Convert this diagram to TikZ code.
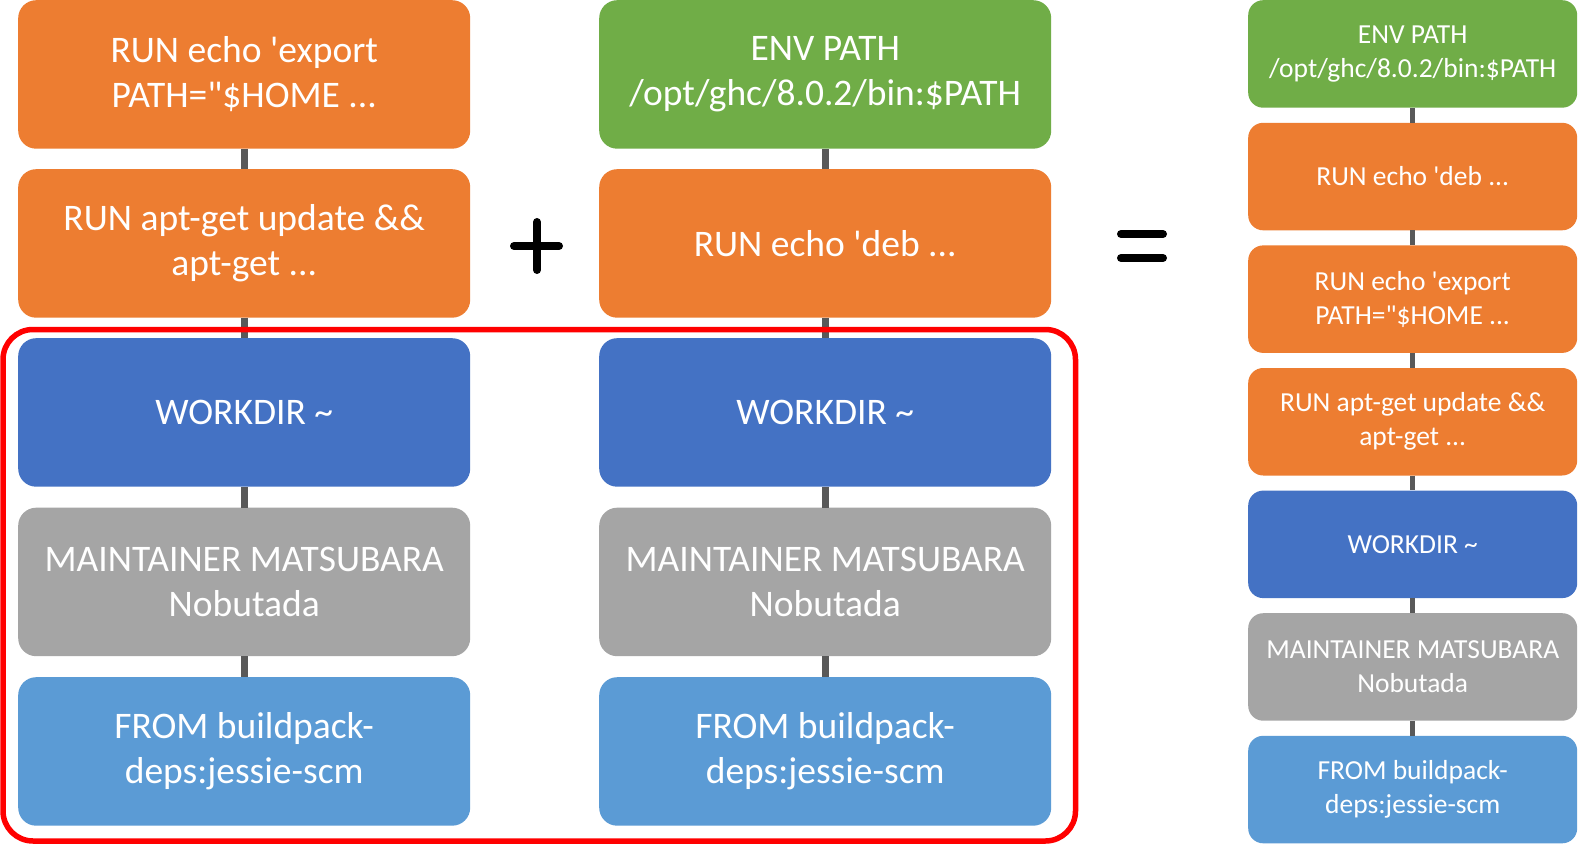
\documentclass[tikz,border=0pt]{standalone}
\usepackage{fontspec}
\setmainfont{Carlito}[Ligatures=TeXOff]
\definecolor{cOrange}{HTML}{ED7D31}
\definecolor{cGreen}{HTML}{70AD47}
\definecolor{cBlue}{HTML}{4472C4}
\definecolor{cGray}{HTML}{A5A5A5}
\definecolor{cLight}{HTML}{5B9BD5}
\definecolor{cConn}{HTML}{595959}
\definecolor{cRed}{HTML}{FF0000}
\begin{document}
\begin{tikzpicture}[x=1pt,y=-1pt,
  bigbox/.style={rounded corners=18pt, minimum width=452pt, minimum height=148.5pt,
    anchor=north west, align=center, text=white, inner sep=0pt,
    font=\fontsize{37.5}{45}\selectfont},
  smallbox/.style={rounded corners=15pt, minimum width=329pt, minimum height=107.5pt,
    anchor=north west, align=center, text=white, inner sep=0pt,
    font=\fontsize{27.5}{34}\selectfont},
  conn/.style={draw=cConn, line width=7pt},
  sconn/.style={draw=cConn, line width=5.5pt},
  sym/.style={draw=black, line width=8pt, line cap=round},
  frame/.style={draw=cRed, line width=5.5pt, rounded corners=30pt}]
\useasboundingbox (0,0) rectangle (1580,845);
\fill[white] (0,0) rectangle (1580,845);

% left column
\node[bigbox, fill=cOrange] (L1) at (18,0) {RUN echo 'export\\PATH="\$HOME ...};
\node[bigbox, fill=cOrange] (L2) at (18,169) {RUN apt-get update \&\&\\apt-get ...};
\node[bigbox, fill=cBlue] (L3) at (18,338) {WORKDIR \textasciitilde};
\node[bigbox, fill=cGray] (L4) at (18,507.5) {MAINTAINER MATSUBARA\\Nobutada};
\node[bigbox, fill=cLight] (L5) at (18,677) {FROM buildpack-\\deps:jessie-scm};
% middle column
\node[bigbox, fill=cGreen] (M1) at (599,0) {ENV PATH\\/opt/ghc/8.0.2/bin:\$PATH};
\node[bigbox, fill=cOrange] (M2) at (599,169) {RUN echo 'deb ...};
\node[bigbox, fill=cBlue] (M3) at (599,338) {WORKDIR \textasciitilde};
\node[bigbox, fill=cGray] (M4) at (599,507.5) {MAINTAINER MATSUBARA\\Nobutada};
\node[bigbox, fill=cLight] (M5) at (599,677) {FROM buildpack-\\deps:jessie-scm};
% right column
\node[smallbox, fill=cGreen] (R1) at (1248,0) {ENV PATH\\/opt/ghc/8.0.2/bin:\$PATH};
\node[smallbox, fill=cOrange] (R2) at (1248,122.6) {RUN echo 'deb ...};
\node[smallbox, fill=cOrange] (R3) at (1248,245.2) {RUN echo 'export\\PATH="\$HOME ...};
\node[smallbox, fill=cOrange] (R4) at (1248,367.8) {RUN apt-get update \&\&\\apt-get ...};
\node[smallbox, fill=cBlue] (R5) at (1248,490.4) {WORKDIR \textasciitilde};
\node[smallbox, fill=cGray] (R6) at (1248,613) {MAINTAINER MATSUBARA\\Nobutada};
\node[smallbox, fill=cLight] (R7) at (1248,735.6) {FROM buildpack-\\deps:jessie-scm};

\foreach \a/\b in {L1/L2,L2/L3,L3/L4,L4/L5,M1/M2,M2/M3,M3/M4,M4/M5}
  \draw[conn] (\a.south) -- (\b.north);
\foreach \a/\b in {R1/R2,R2/R3,R3/R4,R4/R5,R5/R6,R6/R7}
  \draw[sconn] (\a.south) -- (\b.north);

% red frame
\draw[frame] (3,329.5) rectangle (1075.5,841);

% plus and equals
\draw[sym] (514,246) -- (559,246);
\draw[sym] (537,222) -- (537,270);
\draw[sym] (1121,234) -- (1163,234);
\draw[sym] (1121,258) -- (1163,258);
\end{tikzpicture}
\end{document}
